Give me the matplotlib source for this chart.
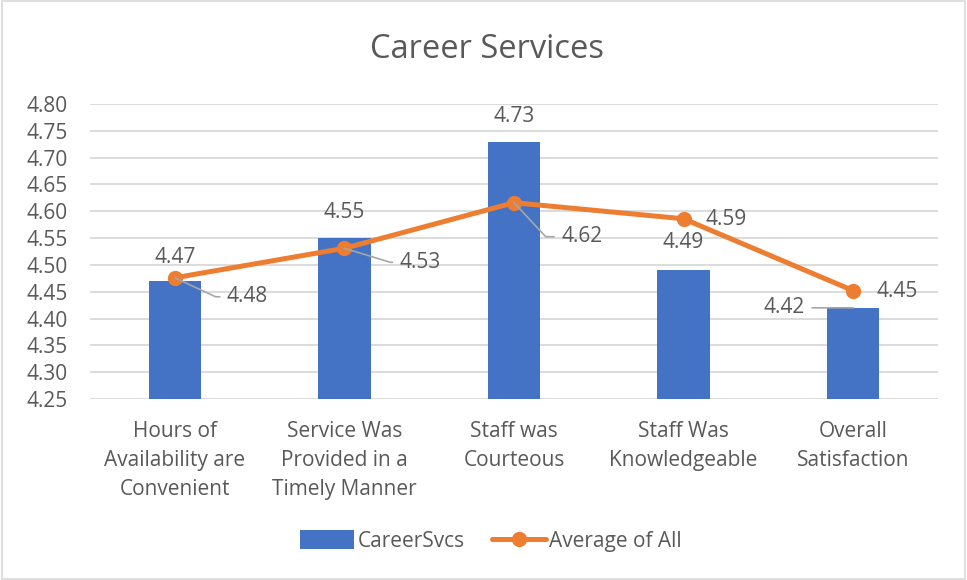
import numpy as np
import matplotlib
matplotlib.use("Agg")
import matplotlib.pyplot as plt
from matplotlib.patches import Rectangle

plt.rcParams['font.family'] = ['Open Sans', 'DejaVu Sans']

categories = ["Hours of\nAvailability are\nConvenient",
              "Service Was\nProvided in a\nTimely Manner",
              "Staff was\nCourteous",
              "Staff Was\nKnowledgeable",
              "Overall\nSatisfaction"]
career_svcs = [4.47, 4.55, 4.73, 4.49, 4.42]
average_all = [4.476, 4.531, 4.616, 4.586, 4.452]
y_ticks = [4.25, 4.30, 4.35, 4.40, 4.45, 4.50, 4.55, 4.60, 4.65, 4.70, 4.75, 4.80]

TXT = '#595959'
BLUE = '#4472C4'
ORANGE = '#ED7D31'
GRID = '#D9D9D9'
FS = 15

fig = plt.figure(figsize=(9.67, 5.80), dpi=100)
fig.patches.append(Rectangle((0.002, 0.002), 0.996, 0.996, transform=fig.transFigure,
                             fill=False, edgecolor=GRID, linewidth=1.2))
ax = fig.add_axes([90 / 967, 1 - 399 / 580, 848 / 967, 295 / 580])

x = np.arange(len(categories))
bars = ax.bar(x, career_svcs, width=0.31, color=BLUE, zorder=2, label='CareerSvcs')
line, = ax.plot(x, average_all, color=ORANGE, lw=3.6, marker='o', ms=10, zorder=3,
                label='Average of All', solid_capstyle='round')

ax.set_xlim(-0.5, len(categories) - 0.5)
ax.set_ylim(4.25, 4.80)
ax.set_yticks(y_ticks)
ax.set_yticklabels(['{:.2f}'.format(v) for v in y_ticks])
ax.yaxis.grid(True, color=GRID, lw=1.3, zorder=0)
ax.set_axisbelow(True)
for s in ax.spines.values():
    s.set_visible(False)
ax.tick_params(axis='y', length=0, pad=16, labelsize=FS, labelcolor=TXT)
ax.set_xticks(x)
ax.set_xticklabels(categories, fontsize=FS, color=TXT, linespacing=1.5)
ax.tick_params(axis='x', length=0, pad=16)

fig.text(487 / 967, 1 - 50 / 580, 'Career Services', fontsize=23.5, color=TXT,
         ha='center', va='center')

# bar labels (offsets in pixels)
bar_off = [(0, 24), (0, 26), (0, 25), (0, 28), (-48, 0)]
for i, v in enumerate(career_svcs):
    dx, dy = bar_off[i]
    if i == 4:
        ax.annotate('{:.2f}'.format(v), (x[i], v), xytext=(dx, dy), textcoords='offset pixels',
                    ha='right', va='center', fontsize=FS, color=TXT,
                    arrowprops=dict(arrowstyle='-', color='#A6A6A6', lw=1.2,
                                    shrinkA=3, shrinkB=0))
    else:
        ax.annotate('{:.2f}'.format(v), (x[i], v), xytext=(dx, dy), textcoords='offset pixels',
                    ha='center', va='center', fontsize=FS, color=TXT)

# line labels
line_off = [(52, -19), (55, -14), (47, -34), (22, -1), (23, -1)]
leader = [True, True, True, False, False]
for i, v in enumerate(average_all):
    dx, dy = line_off[i]
    kw = {}
    if leader[i]:
        ang = np.degrees(np.arctan2(dy + 3, dx - 18))
        kw['arrowprops'] = dict(arrowstyle='-', color='#A6A6A6', lw=1.2,
                                connectionstyle='angle,angleA=0,angleB={:.0f}'.format(ang),
                                shrinkA=3, shrinkB=0)
    ax.annotate('{:.2f}'.format(v), (x[i], v), xytext=(dx, dy), textcoords='offset pixels',
                ha='left', va='center', fontsize=FS, color=TXT, **kw)

fig.legend(handles=[bars, line], loc='center', bbox_to_anchor=(491 / 967, 1 - 541 / 580),
           ncol=2, frameon=False, fontsize=FS, labelcolor=TXT, handlelength=2.6,
           handleheight=1.0, columnspacing=1.3, handletextpad=0.15)

fig.savefig('out.png', dpi=100)
